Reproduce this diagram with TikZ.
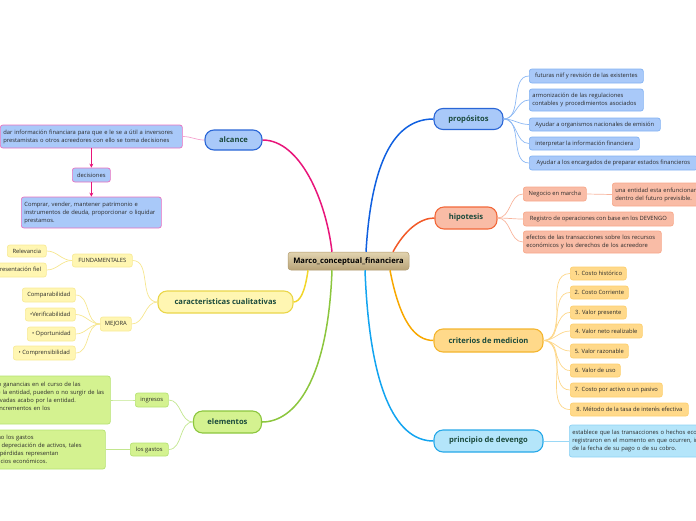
\documentclass[tikz,border=0pt]{standalone}
\usepackage{fontspec}
\setmainfont{Open Sans}
\usetikzlibrary{arrows.meta}
\definecolor{maintext}{HTML}{1B4A3C}
\definecolor{leaftext}{HTML}{2A2A2A}
\definecolor{bluefill}{HTML}{A9C9F9}
\definecolor{bluedraw}{HTML}{2A66D6}
\definecolor{blueleaf}{HTML}{82B2F2}
\definecolor{bluelink}{HTML}{1060E0}
\definecolor{bluelight}{HTML}{8CB8F4}
\definecolor{pinkline}{HTML}{E8157A}
\definecolor{pinkdraw}{HTML}{E870C0}
\definecolor{pinklight}{HTML}{F5A3CF}
\definecolor{yelfill}{HTML}{FFF6B2}
\definecolor{yeldraw}{HTML}{EAD64A}
\definecolor{yelleaf}{HTML}{F8EA96}
\definecolor{yelline}{HTML}{F2D62A}
\definecolor{yellight}{HTML}{F6E68E}
\definecolor{grnfill}{HTML}{D4F290}
\definecolor{grndraw}{HTML}{8CC63E}
\definecolor{grnleaf}{HTML}{B6E272}
\definecolor{grnline}{HTML}{8CC63E}
\definecolor{grnlight}{HTML}{C2E68E}
\definecolor{redfill}{HTML}{F9BCA6}
\definecolor{reddraw}{HTML}{F2683A}
\definecolor{redleaf}{HTML}{F7A88A}
\definecolor{redline}{HTML}{F25A28}
\definecolor{redlight}{HTML}{F8B49C}
\definecolor{orfill}{HTML}{FFD98A}
\definecolor{ordraw}{HTML}{F4B52E}
\definecolor{orleaf}{HTML}{FDCF6E}
\definecolor{orline}{HTML}{F8A800}
\definecolor{orlight}{HTML}{FDD78A}
\definecolor{cyfill}{HTML}{B4E5FA}
\definecolor{cydraw}{HTML}{26A8E8}
\definecolor{cyleaf}{HTML}{8ED2F4}
\definecolor{cyline}{HTML}{12A4F0}
\definecolor{cylight}{HTML}{9AD8F6}
\definecolor{tantop}{HTML}{E2D4B0}
\definecolor{tanbot}{HTML}{B8A378}
\definecolor{tandraw}{HTML}{B09A6E}
\tikzset{
  mainbox/.style={rounded corners=9pt, line width=1.1pt, inner sep=0pt,
    font=\fontsize{7.6}{9}\selectfont\bfseries, text=maintext, anchor=center},
  leafbox/.style={rounded corners=2.5pt, line width=0.7pt, inner xsep=3pt, inner ysep=0pt,
    font=\fontsize{5.8}{8}\selectfont, text=leaftext, anchor=west},
  multibox/.style={leafbox, align=left},
  bigline/.style={line width=1.5pt},
  thinline/.style={line width=0.7pt},
  bleaf/.style={leafbox, fill=bluefill, draw=blueleaf},
  pleaf/.style={leafbox, fill=bluefill, draw=pinkdraw},
  yleaf/.style={leafbox, fill=yelfill, draw=yelleaf},
  gleaf/.style={leafbox, fill=grnfill, draw=grnleaf},
  rleaf/.style={leafbox, fill=redfill, draw=redleaf},
  oleaf/.style={leafbox, fill=orfill, draw=orleaf},
  cleaf/.style={leafbox, fill=cyfill, draw=cyleaf},
}
\begin{document}
\begin{tikzpicture}[x=1pt,y=-1pt]
\useasboundingbox (0,0) rectangle (696,520);
\clip (0,0) rectangle (696,520);

% central
\node[rounded corners=3pt, top color=tantop, bottom color=tanbot, draw=tandraw, line width=0.5pt,
  minimum width=121pt, minimum height=18pt, inner sep=0pt,
  font=\fontsize{7.6}{9}\selectfont\bfseries, text=black] (ctr) at (348.5,261) {Marco\_conceptual\_financiera};

% main nodes
\node[mainbox, fill=bluefill, draw=bluedraw, minimum width=57pt, minimum height=20pt] (alc) at (233.5,140) {alcance};
\node[mainbox, fill=yelfill, draw=yeldraw, minimum width=135pt, minimum height=22pt] (car) at (225.5,302) {caracteristicas cualitativas};
\node[mainbox, fill=grnfill, draw=grndraw, minimum width=68pt, minimum height=22pt] (ele) at (227.5,422) {elementos};
\node[mainbox, fill=bluefill, draw=bluedraw, minimum width=69pt, minimum height=21pt] (pro) at (468.5,119) {propósitos};
\node[mainbox, fill=redfill, draw=reddraw, minimum width=62pt, minimum height=22pt] (hip) at (466,218) {hipotesis};
\node[mainbox, fill=orfill, draw=ordraw, minimum width=109pt, minimum height=23pt] (cri) at (488.5,340.5) {criterios de medicion};
\node[mainbox, fill=cyfill, draw=cydraw, minimum width=109pt, minimum height=22pt] (dev) at (488.5,441) {principio de devengo};

% main connectors
\draw[bigline, pinkline] ([xshift=-16.5pt]ctr.north) .. controls (326,200) and (300,140) .. (alc.east);
\draw[bigline, yelline] ([xshift=-40.5pt]ctr.south) .. controls (305,292) and (300,302) .. (car.east);
\draw[bigline, grnline] ([xshift=-16.5pt]ctr.south) .. controls (328,380) and (295,422) .. (ele.east);
\draw[bigline, bluelink] ([xshift=17.5pt]ctr.north) .. controls (372,150) and (400,119) .. (pro.west);
\draw[bigline, redline] ([xshift=44.5pt]ctr.north) .. controls (405,230) and (420,218) .. (hip.west);
\draw[bigline, orline] ([xshift=41.5pt]ctr.south) .. controls (400,322) and (415,340.5) .. (cri.west);
\draw[bigline, cyline] ([xshift=16.5pt]ctr.south) .. controls (370,400) and (400,441) .. (dev.west);

% alcance branch
\node[pleaf, multibox, text width=176pt, minimum height=23pt] (dar) at (0,136.5)
  {dar información financiara para que e le se a útil a inversores\\prestamistas o otros acreedores con ello se toma decisiones};
\node[pleaf, minimum width=38pt, minimum height=14pt] (dec) at (72,175) {decisiones};
\node[pleaf, multibox, text width=134pt, minimum height=31pt] (com) at (21,212.5)
  {Comprar, vender, mantener patrimonio e\\instrumentos de deuda, proporcionar o liquidar\\prestamos.};
\draw[thinline, pinklight] (alc.west) to[out=180,in=0] (dar.east);
\draw[thinline, pinkline, -{Stealth[length=4pt,width=4pt]}] (dec.north |- dar.south) -- (dec.north);
\draw[thinline, pinkline, -{Stealth[length=4pt,width=4pt]}] (dec.south) -- (dec.south |- com.north);

% caracteristicas branch
\node[yleaf, minimum width=60pt, minimum height=13pt] (fun) at (72,260.5) {FUNDAMENTALES};
\node[yleaf, minimum width=39pt, minimum height=12pt] (rel) at (7,251) {Relevancia};
\node[yleaf, minimum width=62pt, minimum height=14pt] (rep) at (-16,270) {Representación fiel};
\node[yleaf, minimum width=31pt, minimum height=14pt] (mej) at (100,324) {MEJORA};
\node[yleaf, minimum width=53pt, minimum height=14pt] (cmp) at (22,295) {Comparabilidad};
\node[yleaf, minimum width=50pt, minimum height=13pt] (ver) at (25,314.5) {•Verificabilidad};
\node[yleaf, minimum width=48pt, minimum height=14pt] (opo) at (27,334) {• Oportunidad};
\node[yleaf, minimum width=62pt, minimum height=14pt] (cpr) at (13,353) {• Comprensibilidad};
\foreach \p/\c in {car/fun, car/mej, fun/rel, fun/rep, mej/cmp, mej/ver, mej/opo, mej/cpr}
  \draw[thinline, yellight] (\p.west) to[out=180,in=0] (\c.east);

% elementos branch
\node[gleaf, minimum width=33pt, minimum height=14pt] (ing) at (135,400) {ingresos};
\node[gleaf, minimum width=38pt, minimum height=13pt] (gas) at (130,449.5) {los gastos};
\node[gleaf, multibox, text width=175pt, minimum height=48pt] (ingt) at (-71,400)
  {Los ingresos ordinarios o ganancias en el curso de las\\actividades ordinarias de la entidad, pueden o no surgir de las\\actividades ordinarias llevadas acabo por la entidad.\\Las ganancias suponen incrementos en los\\beneficios.};
\node[gleaf, multibox, text width=165pt, minimum height=39pt] (gast) at (-66,449.5)
  {Tanto las pérdidas como los gastos\\surgen de la pérdida o depreciación de activos, tales\\como inventarios. Las pérdidas representan\\decrementos de beneficios económicos.};
\foreach \p/\c in {ele/ing, ele/gas, ing/ingt, gas/gast}
  \draw[thinline, grnlight] (\p.west) to[out=180,in=0] (\c.east);

% propositos branch
\node[bleaf, minimum width=114pt, minimum height=14pt] (p1) at (529,76) {futuras niif y revisión de las existentes};
\node[bleaf, multibox, text width=108pt, minimum height=22pt] (p2) at (529,100) {armonización de las regulaciones\\contables y procedimientos asociados};
\node[bleaf, minimum width=131pt, minimum height=13pt] (p3) at (529,124.5) {Ayudar a organismos nacionales de emisión};
\node[bleaf, minimum width=110pt, minimum height=13pt] (p4) at (529,143.5) {interpretar la información financiera};
\node[bleaf, minimum width=168pt, minimum height=14pt] (p5) at (529,163) {Ayudar a los encargados de preparar estados financieros};
\foreach \c in {p1,p2,p3,p4,p5}
  \draw[thinline, bluelight] (pro.east) to[out=0,in=180] (\c.west);

% hipotesis branch
\node[rleaf, minimum width=63pt, minimum height=14pt] (h1) at (523,194) {Negocio en marcha};
\node[rleaf, multibox, text width=110pt, minimum height=23pt] (h1b) at (612,194.5) {una entidad esta enfuncionamiento\\dentro del futuro previsible.};
\node[rleaf, minimum width=150pt, minimum height=14pt] (h2) at (523,219) {Registro de operaciones con base en los DEVENGO};
\node[rleaf, multibox, text width=132pt, minimum height=22pt] (h3) at (523,242) {efectos de las transacciones sobre los recursos\\económicos y los derechos de los acreedore};
\foreach \c in {h1,h2,h3}
  \draw[thinline, redlight] (hip.east) to[out=0,in=180] (\c.west);
\draw[thinline, redlight] (h1.east) -- (h1b.west);

% criterios branch
\node[oleaf, minimum width=56pt, minimum height=13pt] (c1) at (570,273.5) {1. Costo histórico};
\node[oleaf, minimum width=58pt, minimum height=13pt] (c2) at (570,292.5) {2. Costo Corriente};
\node[oleaf, minimum width=56pt, minimum height=13pt] (c3) at (570,312.5) {3. Valor presente};
\node[oleaf, minimum width=72pt, minimum height=14pt] (c4) at (570,331) {4. Valor neto realizable};
\node[oleaf, minimum width=58pt, minimum height=14pt] (c5) at (570,351) {5. Valor razonable};
\node[oleaf, minimum width=50pt, minimum height=13pt] (c6) at (570,370.5) {6. Valor de uso};
\node[oleaf, minimum width=92pt, minimum height=14pt] (c7) at (570,390) {7. Costo por activo o un pasivo};
\node[oleaf, minimum width=118pt, minimum height=13pt] (c8) at (570,409.5) {8. Método de la tasa de interés efectiva};
\foreach \c in {c1,c2,c3,c4,c5,c6,c7,c8}
  \draw[thinline, orlight] (cri.east) to[out=0,in=180] (\c.west);

% devengo branch
\node[cleaf, multibox, text width=200pt, minimum height=32pt] (d1) at (569,441)
  {establece que las transacciones o hechos económicos se\\registraron en el momento en que ocurren, independientemente\\de la fecha de su pago o de su cobro.};
\draw[thinline, cylight] (dev.east) -- (d1.west);
\end{tikzpicture}
\end{document}
